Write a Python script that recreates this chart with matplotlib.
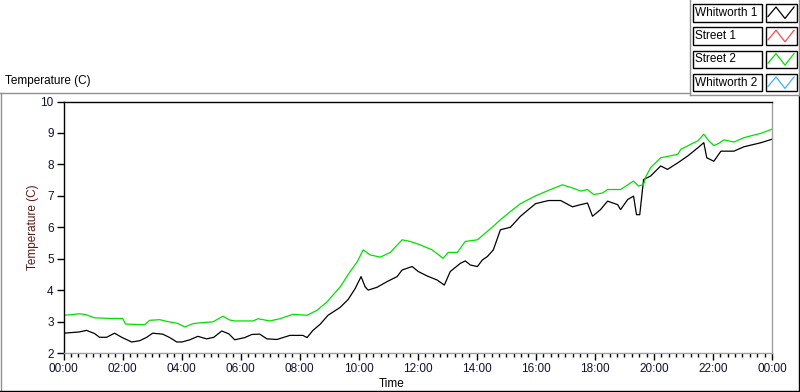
"""Temperature chart recreated in LabVIEW style."""

import matplotlib
matplotlib.use('Agg')
import matplotlib.pyplot as plt
from matplotlib.lines import Line2D
from matplotlib.patches import Rectangle
from matplotlib.ticker import FuncFormatter, MultipleLocator

plt.rcParams['font.family'] = ['Liberation Sans', 'DejaVu Sans']

# Time in hours since midnight, temperature in C
street2_hours = [0.00, 0.27, 0.54, 0.75, 1.05, 1.56, 2.00, 2.10, 2.75, 2.92,
                 3.26, 3.53, 3.87, 4.11, 4.38, 4.62, 5.06, 5.40, 5.63, 5.80,
                 6.42, 6.59, 6.99, 7.33, 7.77, 8.25, 8.59, 8.93, 9.37, 9.71,
                 9.95, 10.15, 10.39, 10.73, 11.07, 11.47, 11.74, 12.08, 12.49, 12.86,
                 13.03, 13.34, 13.61, 14.02, 14.22, 14.56, 14.80, 15.14, 15.48, 15.99,
                 16.50, 16.90, 17.24, 17.52, 17.75, 17.96, 18.26, 18.43, 18.87, 19.31,
                 19.48, 19.65, 19.72, 19.89, 20.23, 20.81, 20.91, 21.25, 21.49, 21.69,
                 21.86, 22.03, 22.20, 22.37, 22.71, 23.05, 23.63, 24.00]
street2_temp = [3.20, 3.22, 3.25, 3.22, 3.12, 3.10, 3.10, 2.92, 2.90, 3.04,
                3.06, 3.00, 2.94, 2.83, 2.93, 2.96, 2.99, 3.17, 3.05, 3.02,
                3.02, 3.09, 3.02, 3.09, 3.23, 3.20, 3.36, 3.63, 4.10, 4.59,
                4.90, 5.28, 5.12, 5.05, 5.20, 5.60, 5.55, 5.44, 5.28, 5.01,
                5.20, 5.20, 5.55, 5.60, 5.76, 6.03, 6.24, 6.50, 6.75, 7.00,
                7.20, 7.35, 7.25, 7.15, 7.20, 7.04, 7.09, 7.20, 7.20, 7.47,
                7.31, 7.36, 7.60, 7.90, 8.21, 8.32, 8.48, 8.64, 8.75, 8.96,
                8.75, 8.60, 8.67, 8.78, 8.71, 8.85, 8.99, 9.12]

whitworth1_hours = [0.00, 0.54, 0.78, 1.05, 1.22, 1.46, 1.73, 1.97, 2.31, 2.58,
                    2.82, 3.02, 3.36, 3.60, 3.84, 4.01, 4.28, 4.55, 4.85, 5.09,
                    5.36, 5.60, 5.80, 6.14, 6.38, 6.65, 6.89, 7.23, 7.67, 8.11,
                    8.25, 8.45, 8.69, 8.96, 9.37, 9.64, 9.88, 10.08, 10.22, 10.32,
                    10.62, 10.96, 11.30, 11.47, 11.81, 12.02, 12.32, 12.66, 12.90, 13.10,
                    13.44, 13.61, 13.78, 14.02, 14.19, 14.36, 14.56, 14.80, 15.14, 15.48,
                    15.99, 16.43, 16.84, 17.24, 17.52, 17.75, 17.92, 18.19, 18.43, 18.77,
                    18.87, 19.11, 19.31, 19.41, 19.52, 19.65, 19.89, 20.23, 20.46, 20.81,
                    21.15, 21.49, 21.69, 21.79, 22.03, 22.27, 22.71, 23.05, 23.63, 24.00]
whitworth1_temp = [2.63, 2.67, 2.72, 2.62, 2.50, 2.50, 2.63, 2.50, 2.35, 2.39,
                   2.50, 2.63, 2.60, 2.49, 2.35, 2.35, 2.42, 2.53, 2.45, 2.50,
                   2.70, 2.61, 2.42, 2.49, 2.59, 2.60, 2.45, 2.43, 2.56, 2.56,
                   2.49, 2.72, 2.91, 3.20, 3.45, 3.70, 4.05, 4.43, 4.10, 4.00,
                   4.09, 4.27, 4.43, 4.64, 4.75, 4.59, 4.45, 4.32, 4.16, 4.59,
                   4.85, 4.93, 4.80, 4.75, 4.96, 5.07, 5.28, 5.92, 6.00, 6.35,
                   6.75, 6.85, 6.85, 6.65, 6.72, 6.77, 6.35, 6.56, 6.83, 6.72,
                   6.56, 6.88, 6.99, 6.40, 6.40, 7.52, 7.63, 7.95, 7.84, 8.05,
                   8.27, 8.53, 8.69, 8.21, 8.10, 8.42, 8.42, 8.56, 8.69, 8.80]

legend_names = ['Whitworth 1', 'Street 1', 'Street 2', 'Whitworth 2']
legend_colors = ['#000000', '#ff4a4a', '#00e000', '#3ab0ff']

W, H = 800, 392


def fx(x):
    return x / W


def fy(y):
    return 1 - y / H


fig = plt.figure(figsize=(8, 3.92), dpi=100)
fig.patch.set_facecolor('white')

ax = fig.add_axes([fx(63.5), fy(353), fx(772) - fx(63.5), fy(101.5) - fy(353)])
ax.plot(whitworth1_hours, whitworth1_temp, color=legend_colors[0], lw=0.9)
ax.plot(street2_hours, street2_temp, color=legend_colors[2], lw=0.9)

ax.set_xlim(0, 24)
ax.set_ylim(2, 10)
ax.xaxis.set_major_locator(MultipleLocator(2))
ax.xaxis.set_minor_locator(MultipleLocator(0.25))
ax.xaxis.set_major_formatter(FuncFormatter(lambda h, _: f'{int(round(h)) % 24:02d}:00'))
ax.yaxis.set_major_locator(MultipleLocator(1))
ax.tick_params(axis='both', which='major', length=5, width=1, labelsize=8.5, colors='black',
               labelcolor='#101030', pad=2)
ax.tick_params(axis='x', which='minor', length=3, width=1)
ax.spines['left'].set_color('black')
ax.spines['top'].set_color('black')
ax.spines['right'].set_color('#a0a0a0')
ax.spines['bottom'].set_color('#a0a0a0')
for s in ax.spines.values():
    s.set_linewidth(1.0)

fig.text(fx(392), fy(384), 'Time', ha='center', va='center', fontsize=8.5)
fig.text(fx(33), fy(227), 'Temperature (C)', ha='center', va='center', fontsize=8.5,
         rotation=90, color='#5a1818')
fig.text(fx(5), fy(81), 'Temperature (C)', ha='left', va='center', fontsize=8.5)

# outer frame
frame = [((0, 690), (92.5, 92.5), '#909090'),
         ((1, 1), (92.5, 390), '#909090'),
         ((0, 800), (390.5, 390.5), 'black'),
         ((799, 799), (95, 390.5), 'black'),
         ((690, 690), (0, 95), '#909090'),
         ((690, 799), (95, 95), '#909090'),
         ((799, 799), (0, 95), '#909090')]
for xs, ys, c in frame:
    fig.add_artist(Line2D([fx(x) for x in xs], [fy(y) for y in ys], color=c, lw=1.0))

# legend boxes
for i, (name, color) in enumerate(zip(legend_names, legend_colors)):
    top = 4 + i * 23.3
    bot = top + 17.5
    fig.add_artist(Rectangle((fx(693), fy(bot)), fx(762) - fx(693), fy(top) - fy(bot),
                             facecolor='white', edgecolor='black', lw=1.0))
    fig.text(fx(695), fy((top + bot) / 2), name, ha='left', va='center', fontsize=8.5)
    fig.add_artist(Rectangle((fx(766), fy(bot)), fx(797) - fx(766), fy(top) - fy(bot),
                             facecolor='white', edgecolor='black', lw=1.0))
    zx = [768, 776, 785, 794]
    zy = [bot - 5, top + 3, bot - 3, top + 3]
    fig.add_artist(Line2D([fx(x) for x in zx], [fy(y) for y in zy], color=color, lw=0.9))

plt.savefig('out.png', dpi=100)
plt.close()
